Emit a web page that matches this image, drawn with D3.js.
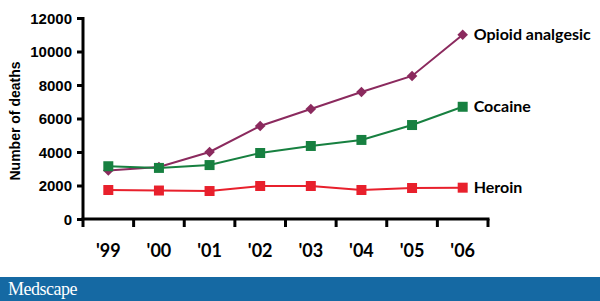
<!DOCTYPE html>
<html><head><meta charset="utf-8">
<script src="https://cdn.jsdelivr.net/npm/d3@7"></script>
<style>body{margin:0;background:#fff}svg{display:block}</style>
</head><body>
<svg id="c" width="600" height="301"></svg>
<script>
const years = ["'99","'00","'01","'02","'03","'04","'05","'06"];
const opioid = [2900, 3100, 4000, 5550, 6570, 7580, 8540, 11000];
const cocaine = [3150, 3050, 3220, 3940, 4360, 4720, 5610, 6700];
const heroin = [1730, 1700, 1670, 1970, 1970, 1730, 1850, 1870];
const yTicks = [0, 2000, 4000, 6000, 8000, 10000, 12000];
const seriesNames = ["Opioid analgesic", "Cocaine", "Heroin"];
const colors = ["#8b2a5e", "#178040", "#e8202c"];

const svg = d3.select("#c");
const x = d3.scaleBand().domain(years).range([83, 488]);
const y = d3.scaleLinear().domain([0, 12000]).range([219, 18]);

// Y axis
const ya = svg.append("g").attr("transform", "translate(83,0)")
  .call(d3.axisLeft(y).tickValues(yTicks).tickSize(6).tickPadding(5).tickFormat(d3.format("d")));
ya.select(".domain").attr("stroke", "#000").attr("stroke-width", 3).attr("d", "M0,17V220");
ya.selectAll(".tick line").attr("stroke", "#000").attr("stroke-width", 3);
ya.selectAll(".tick text").attr("font-family", "Liberation Sans, Arial, sans-serif")
  .attr("font-weight", "bold").attr("font-size", 15).attr("fill", "#000").attr("dy", "0.35em");

// X axis: ticks at band boundaries
const xa = svg.append("g").attr("transform", "translate(0,219)");
xa.append("line").attr("x1", 81.5).attr("x2", 489.5).attr("y1", 0).attr("y2", 0)
  .attr("stroke", "#000").attr("stroke-width", 3);
const bounds = years.map(d => x(d)).concat([x.range()[1]]);
xa.selectAll("line.t").data(bounds).enter().append("line").attr("class", "t")
  .attr("x1", d => d).attr("x2", d => d).attr("y1", 0).attr("y2", 8)
  .attr("stroke", "#000").attr("stroke-width", 3);
xa.selectAll("text").data(years).enter().append("text")
  .attr("x", d => x(d) + x.bandwidth() / 2).attr("y", 38)
  .attr("text-anchor", "middle").attr("font-family", "Lato, sans-serif")
  .attr("font-weight", "bold").attr("font-size", 18).attr("fill", "#000").text(d => d);

// Y title
svg.append("text").attr("transform", "translate(20,121) rotate(-90)")
  .attr("text-anchor", "middle").attr("font-family", "Liberation Sans, Arial, sans-serif")
  .attr("font-weight", "bold").attr("font-size", 14).text("Number of deaths");

// Series
const data = [opioid, cocaine, heroin];
const cx = d => x(d) + x.bandwidth() / 2;
const line = d3.line().x((d, i) => cx(years[i])).y(d => y(d));
data.forEach((vals, si) => {
  const g = svg.append("g");
  g.append("path").attr("d", line(vals)).attr("fill", "none")
    .attr("stroke", colors[si]).attr("stroke-width", 2);
  g.selectAll("path.m").data(vals).enter().append("path").attr("class", "m")
    .attr("transform", (d, i) => `translate(${cx(years[i])},${y(d)})` + (si === 0 ? " rotate(45)" : ""))
    .attr("d", d3.symbol().type(d3.symbolSquare).size(si === 0 ? 56 : 100))
    .attr("fill", colors[si]);
  g.append("text").attr("x", cx(years[7]) + 11).attr("y", y(vals[7]))
    .attr("dy", "0.35em").attr("font-family", "Lato, sans-serif")
    .attr("font-weight", "bold").attr("font-size", 16).attr("fill", "#000")
    .text(seriesNames[si]);
});

// Footer
svg.append("rect").attr("x", 0).attr("y", 277).attr("width", 600).attr("height", 24).attr("fill", "#1569a3");
svg.append("text").attr("x", 8).attr("y", 295).attr("font-family", "Liberation Serif, serif")
  .attr("font-size", 18).attr("fill", "#fff").attr("letter-spacing", -0.5).text("Medscape");
</script>
</body></html>
